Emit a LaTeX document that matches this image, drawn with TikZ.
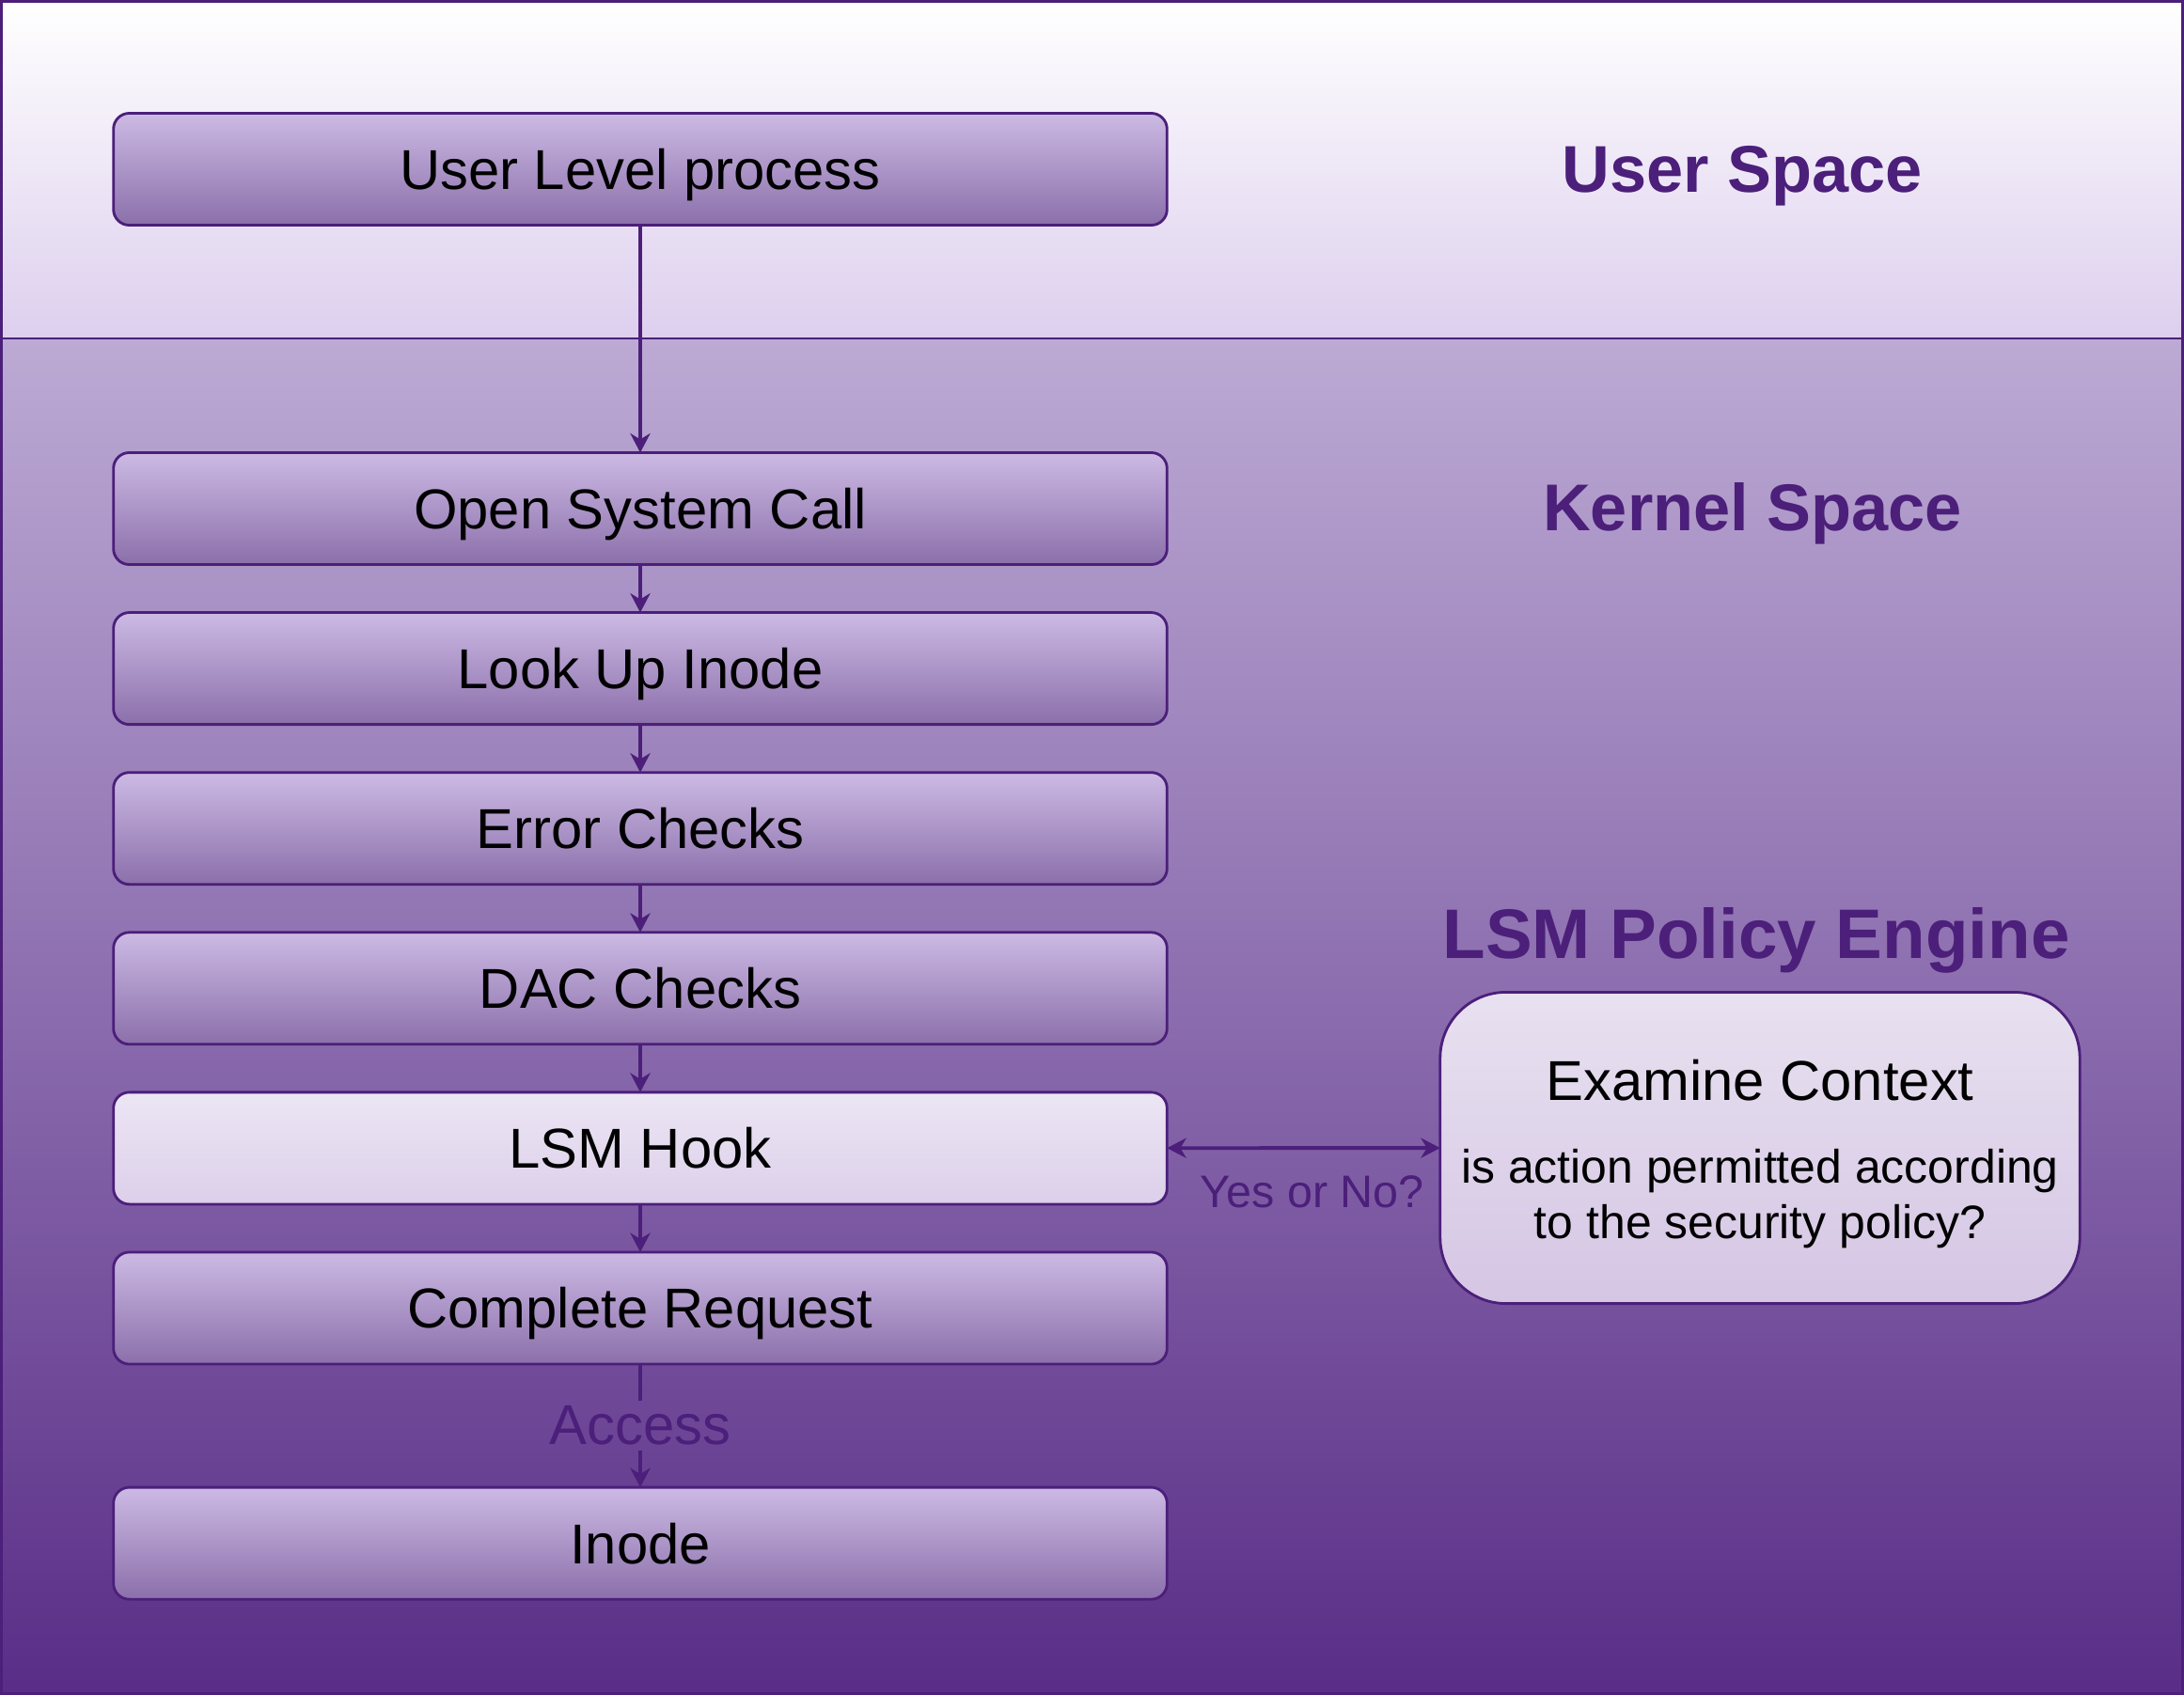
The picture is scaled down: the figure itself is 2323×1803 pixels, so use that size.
\documentclass[tikz,border=0pt]{standalone}
\usepackage{fontspec}
\setmainfont{Liberation Sans}
\usepackage{xcolor}
\usepackage{tikz}
\usetikzlibrary{arrows.meta,positioning,calc}
\definecolor{lsmPurple}{HTML}{4B1F7A}
\definecolor{userBottom}{HTML}{DDCFEE}
\definecolor{kernelTop}{HTML}{BCAAD4}
\definecolor{kernelBottom}{HTML}{592D87}
\definecolor{boxTop}{HTML}{CCBAE4}
\definecolor{boxBottom}{HTML}{8B6FAA}
\definecolor{hookTop}{HTML}{ECE6F4}
\definecolor{hookBottom}{HTML}{DCCFEA}
\definecolor{policyTop}{HTML}{E8E1F0}
\definecolor{policyBottom}{HTML}{D5C6E4}

\begin{document}
\begin{tikzpicture}[x=0.01cm,y=-0.01cm,>={Stealth[length=5.8pt,width=6pt,inset=1.8pt]},line width=0.8pt,
	every node/.style={font=\fontsize{17}{20}\selectfont},
	stepbox/.style={draw=lsmPurple,rounded corners=4.8pt,outer sep=0pt,minimum width=11.2cm,minimum height=1.19cm,top color=boxTop,bottom color=boxBottom,text height=12.2pt,text depth=0pt},
	hookbox/.style={stepbox,top color=hookTop,bottom color=hookBottom},
	policybox/.style={draw=lsmPurple,rounded corners=0.7cm,outer sep=0pt,minimum width=6.8cm,minimum height=3.31cm,top color=policyTop,bottom color=policyBottom,align=center,font=\fontsize{14.2}{16.8}\selectfont},
	spacetitle/.style={text=lsmPurple,font=\bfseries\fontsize{20}{24}\selectfont,text height=14.3pt,text depth=0pt},
	flowlabel/.style={text=lsmPurple,inner xsep=2pt,inner ysep=1.1pt},
	flowline/.style={color=lsmPurple,line width=1.1pt}]
\useasboundingbox (0,0) rectangle (2323,1803);
\shade[top color=white,bottom color=userBottom] (0,0) rectangle (2323,360);
\shade[top color=kernelTop,bottom color=kernelBottom] (0,360) rectangle (2323,1803);
\draw[lsmPurple,line width=1.7pt] (0,0) rectangle (2323,1803);
\draw[lsmPurple] (0,360) -- (2323,360);

\node[stepbox] (user) at (681,180) {User Level process};
\node[stepbox] (open) at (681,541) {Open System Call};
\node[stepbox,below=0.51cm of open] (lookup) {Look Up Inode};
\node[stepbox,below=0.51cm of lookup] (errchk) {Error Checks};
\node[stepbox,below=0.51cm of errchk] (dacchk) {DAC Checks};
\node[hookbox,below=0.51cm of dacchk] (hook) {LSM Hook};
\node[stepbox,below=0.51cm of hook] (complete) {Complete Request};
\node[stepbox,below=1.31cm of complete] (inode) {Inode};

\node[spacetitle] (userspace) at (1853,179) {User Space};
\node[spacetitle] (kernelspace) at (1864,539) {Kernel Space};
\node[spacetitle,font=\bfseries\fontsize{21.2}{25}\selectfont,text height=15.2pt] (engine) at (1868,993) {LSM Policy Engine};
\node[policybox] (examine) at (1872,1221) {{\fontsize{17}{20}\selectfont\rule{0pt}{16pt}Examine Context}\\[8pt]is action permitted according\\to the security policy?};

\node[flowlabel] (access) at ($(complete.south)!0.5!(inode.north)$) {Access};

\draw[->,flowline] (user)     -- (open);
\draw[->,flowline] (open)     -- (lookup);
\draw[->,flowline] (lookup)   -- (errchk);
\draw[->,flowline] (errchk)   -- (dacchk);
\draw[->,flowline] (dacchk)   -- (hook);
\draw[->,flowline] (hook)     -- (complete);
\draw[flowline]    (complete) -- (access);
\draw[->,flowline] (access)   -- (inode);
\draw[<->,flowline] (hook) -- node[flowlabel,font=\fontsize{13.8}{16}\selectfont,yshift=-0.47cm,xshift=0.09cm] (yesno) {Yes or No?} (examine);
\end{tikzpicture}
\end{document}
